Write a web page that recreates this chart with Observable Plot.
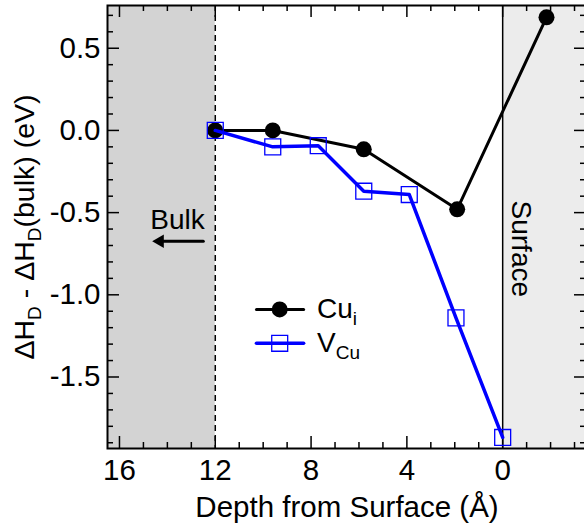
<!DOCTYPE html>
<html><head><meta charset="utf-8">
<script src="https://cdn.jsdelivr.net/npm/d3@7"></script>
<script src="https://cdn.jsdelivr.net/npm/@observablehq/plot@0.6"></script>
<style>body{margin:0;background:#fff;}</style>
</head><body><div id="chart"></div>
<script>
// ---- data ----
const cuDepth  = [12, 9.6, 5.8, 1.9, -1.83];
const cuEnergy = [0.0, 0.0, -0.115, -0.48, 0.688];
const vDepth   = [12, 9.6, 7.7, 5.8, 3.9, 1.95, 0];
const vEnergy  = [0.0, -0.10, -0.093, -0.37, -0.39, -1.14, -1.868];
const xMajorTicks = [16, 12, 8, 4, 0];
const xMinorTicks = [-3, -2, -1, 1, 2, 3, 5, 6, 7, 9, 10, 11, 13, 14, 15];
const yMajorTicks = [-1.5, -1.0, -0.5, 0.0, 0.5];
const yMinorTicks = [-1.9,-1.8,-1.7,-1.6,-1.4,-1.3,-1.2,-1.1,-0.9,-0.8,-0.7,-0.6,-0.4,-0.3,-0.2,-0.1,0.1,0.2,0.3,0.4,0.6,0.7];
const seriesNames = ["Cu_{i}", "V_{Cu}"];
const seriesColors = ["black", "#0000ff"];
const xLabel = "Depth from Surface (Å)";
const yLabel = "ΔH_{D} - ΔH_{D}(bulk) (eV)";

const cu = cuDepth.map((d, i) => ({depth: d, e: cuEnergy[i]}));
const vc = vDepth.map((d, i) => ({depth: d, e: vEnergy[i]}));

const W = 584, H = 524;
const mL = 107, mR = -2, mT = 5, mB = 76;
const plotW = W - mL - mR, plotH = H - mT - mB;
const xDom = [16.5, -3.5], yDom = [-1.935, 0.76];
const MAJ = 12, MIN = 6;
const AX = 29.5; // axis text size

// legend placement (annotation, in data units)
const legX1 = 10.28, legX2 = 8.31, legXm = 9.31, legTx = 7.75;
const legY = [-1.089, -1.295];

const tick = (o) => Object.assign({stroke: "black", strokeWidth: 1.5}, o);

const chart = Plot.plot({
  width: W, height: H,
  marginLeft: mL, marginRight: mR, marginTop: mT, marginBottom: mB,
  style: {fontFamily: "'Liberation Sans', Arial, sans-serif", fontSize: "28px", background: "white", color: "black"},
  x: {domain: xDom, axis: null},
  y: {domain: yDom, axis: null},
  marks: [
    Plot.rect([0], {x1: xDom[0], x2: 12, fill: "#d3d3d3"}),
    Plot.rect([0], {x1: 0, x2: xDom[1], fill: "#ececec"}),
    Plot.ruleX([12], {stroke: "black", strokeWidth: 1.5, strokeDasharray: "6,4"}),
    Plot.ruleX([0], {stroke: "black", strokeWidth: 1.5}),
    // ticks (inward, all four sides)
    Plot.ruleX(xMajorTicks, tick({x: d => d, insetTop: plotH - MAJ})),
    Plot.ruleX(xMinorTicks, tick({x: d => d, insetTop: plotH - MIN})),
    Plot.ruleX(xMajorTicks, tick({x: d => d, insetBottom: plotH - MAJ})),
    Plot.ruleX(xMinorTicks, tick({x: d => d, insetBottom: plotH - MIN})),
    Plot.ruleY(yMajorTicks, tick({y: d => d, insetRight: plotW - MAJ})),
    Plot.ruleY(yMinorTicks, tick({y: d => d, insetRight: plotW - MIN})),
    Plot.ruleY(yMajorTicks, tick({y: d => d, insetLeft: plotW - MAJ})),
    Plot.ruleY(yMinorTicks, tick({y: d => d, insetLeft: plotW - MIN})),
    Plot.frame({stroke: "black", strokeWidth: 2}),
    // tick labels
    Plot.text(xMajorTicks, {x: d => d, text: d => String(d), frameAnchor: "bottom", lineAnchor: "top", dy: 11, fontSize: AX}),
    Plot.text(yMajorTicks, {y: d => d, text: d => d.toFixed(1), frameAnchor: "left", textAnchor: "end", dx: -7, fontSize: AX}),
    // axis titles
    Plot.text([xLabel], {frameAnchor: "bottom", textAnchor: "middle", lineAnchor: "middle", dy: 59, fontSize: AX}),
    Plot.text([yLabel], {frameAnchor: "left", textAnchor: "middle", rotate: -90, lineAnchor: "middle", dx: -83, fontSize: 28.5}),
    // annotations
    Plot.text(["Bulk"], {x: 13.58, y: -0.546, textAnchor: "middle", lineAnchor: "middle"}),
    Plot.line([[12.5, -0.674], [14.3, -0.674]], {stroke: "black", strokeWidth: 3}),
    Plot.dot([[14.31, -0.674]], {symbol: "triangle", r: 5, rotate: -90, fill: "black", stroke: "none"}),
    Plot.text(["Surface"], {x: -0.75, y: -0.72, rotate: 90, textAnchor: "middle", lineAnchor: "middle"}),
    // data
    Plot.line(cu, {x: "depth", y: "e", stroke: seriesColors[0], strokeWidth: 3}),
    Plot.dot(cu, {x: "depth", y: "e", r: 8, fill: seriesColors[0], stroke: "none"}),
    Plot.line(vc, {x: "depth", y: "e", stroke: seriesColors[1], strokeWidth: 3.5}),
    Plot.dot(vc, {x: "depth", y: "e", r: 9, symbol: "square", fill: "none", stroke: seriesColors[1], strokeWidth: 1.3}),
    // legend
    Plot.line([[legX1, legY[0]], [legX2, legY[0]]], {stroke: seriesColors[0], strokeWidth: 3}),
    Plot.dot([[legXm, legY[0]]], {r: 8, fill: seriesColors[0], stroke: "none"}),
    Plot.line([[legX1, legY[1]], [legX2, legY[1]]], {stroke: seriesColors[1], strokeWidth: 3.5}),
    Plot.dot([[legXm, legY[1]]], {r: 9, symbol: "square", fill: "none", stroke: seriesColors[1], strokeWidth: 1.3}),
    Plot.text(seriesNames, {x: legTx, y: (d, i) => legY[i], textAnchor: "start", lineAnchor: "middle"})
  ]
});

// render _{...} as real subscripts
function applySubscripts(svg, subSize, shift) {
  svg.querySelectorAll("text").forEach(t => {
    const s = t.textContent;
    if (!s.includes("_{")) return;
    const parts = [];
    const re = /_\{([^}]*)\}/g;
    let last = 0, m;
    while ((m = re.exec(s))) {
      if (m.index > last) parts.push({t: s.slice(last, m.index), sub: false});
      parts.push({t: m[1], sub: true});
      last = re.lastIndex;
    }
    if (last < s.length) parts.push({t: s.slice(last), sub: false});
    t.textContent = "";
    let cur = 0;
    parts.forEach(p => {
      const ts = document.createElementNS("http://www.w3.org/2000/svg", "tspan");
      ts.textContent = p.t;
      const target = p.sub ? shift : 0;
      if (target !== cur) ts.setAttribute("dy", target - cur);
      cur = target;
      if (p.sub) ts.setAttribute("font-size", subSize);
      t.appendChild(ts);
    });
  });
}
applySubscripts(chart, 19, 7);
document.getElementById("chart").appendChild(chart);
</script>
</body></html>
